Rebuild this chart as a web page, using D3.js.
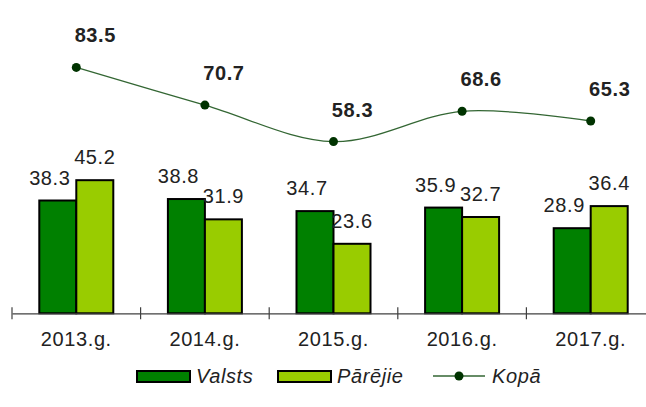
<!DOCTYPE html>
<html>
<head>
<meta charset="utf-8">
<script src="https://cdn.jsdelivr.net/npm/d3@7"></script>
<style>
  body { margin: 0; background: #fff; }
  text { font-family: "Liberation Sans", Arial, sans-serif; fill: #222; letter-spacing: 0.6px; }
</style>
</head>
<body>
<div id="chart"></div>
<script>
// data
var years = ["2013.g.", "2014.g.", "2015.g.", "2016.g.", "2017.g."];
var valsts = [38.3, 38.8, 34.7, 35.9, 28.9];
var parejie = [45.2, 31.9, 23.6, 32.7, 36.4];
var kopa = [83.5, 70.7, 58.3, 68.6, 65.3];
var seriesNames = ["Valsts", "Pārējie", "Kopā"];

var width = 646, height = 407;
var colors = {"Valsts": "#008000", "Pārējie": "#99cc00"};

var svg = d3.select("#chart")
  .append("svg")
  .attr("width", width)
  .attr("height", height);

// scales
var x = d3.scaleBand()
  .domain(years)
  .range([12, 655])
  .padding(0);

var barW = 37;
var x1 = d3.scaleBand()
  .domain(["Valsts", "Pārējie"])
  .range([x.bandwidth() / 2 - barW, x.bandwidth() / 2 + barW]);

var y = d3.scaleLinear()
  .domain([0, 100])
  .range([313.3, 18.8]);

var rows = years.map(function(d, i) {
  return {year: d, Valsts: valsts[i], "Pārējie": parejie[i], total: kopa[i]};
});

// bars
var groups = svg.selectAll(".grp")
  .data(rows)
  .enter()
  .append("g")
  .attr("transform", function(d) { return "translate(" + x(d.year) + ",0)"; });

groups.selectAll("rect")
  .data(function(d) { return ["Valsts", "Pārējie"].map(function(k) { return {key: k, value: d[k]}; }); })
  .enter()
  .append("rect")
    .attr("x", function(d) { return x1(d.key); })
    .attr("y", function(d) { return y(d.value); })
    .attr("width", x1.bandwidth())
    .attr("height", function(d) { return y(0) - y(d.value); })
    .style("fill", function(d) { return colors[d.key]; })
    .style("stroke", "#000")
    .style("stroke-width", 2);

// bar labels (Valsts ones sit a bit to the left)
groups.selectAll(".lbl")
  .data(function(d) { return ["Valsts", "Pārējie"].map(function(k) { return {key: k, value: d[k]}; }); })
  .enter()
  .append("text")
    .attr("x", function(d) { return x1(d.key) + x1.bandwidth() / 2 + (d.key === "Valsts" ? -8 : 0); })
    .attr("y", function(d) { return y(d.value) - 16; })
    .attr("text-anchor", "middle")
    .style("font-size", "20px")
    .text(function(d) { return d.value.toFixed(1); });

// x axis
var axis = svg.append("g")
  .attr("transform", "translate(0," + y(0) + ")")
  .call(d3.axisBottom(x).tickSize(0).tickFormat(""));
axis.select(".domain").attr("stroke", "#404040").attr("stroke-width", 1.2);

svg.selectAll(".tk")
  .data(years)
  .enter()
  .append("line")
    .attr("x1", function(d) { return x(d); })
    .attr("x2", function(d) { return x(d); })
    .attr("y1", y(0) - 6)
    .attr("y2", y(0) + 6)
    .attr("stroke", "#404040")
    .attr("stroke-width", 1.2);

svg.selectAll(".cat")
  .data(years)
  .enter()
  .append("text")
    .attr("x", function(d) { return x(d) + x.bandwidth() / 2; })
    .attr("y", 346)
    .attr("text-anchor", "middle")
    .style("font-size", "20px")
    .text(function(d) { return d; });

// total line
var line = d3.line()
  .x(function(d) { return x(d.year) + x.bandwidth() / 2; })
  .y(function(d) { return y(d.total); })
  .curve(d3.curveCardinal.tension(0));

svg.append("path")
  .datum(rows)
  .attr("d", line)
  .attr("fill", "none")
  .attr("stroke", "#336633")
  .attr("stroke-width", 1.3);

svg.selectAll(".dot")
  .data(rows)
  .enter()
  .append("circle")
    .attr("cx", function(d) { return x(d.year) + x.bandwidth() / 2; })
    .attr("cy", function(d) { return y(d.total); })
    .attr("r", 4.5)
    .style("fill", "#003300");

svg.selectAll(".tot")
  .data(rows)
  .enter()
  .append("text")
    .attr("x", function(d) { return x(d.year) + x.bandwidth() / 2 + 19; })
    .attr("y", function(d) { return y(d.total) - 25; })
    .attr("text-anchor", "middle")
    .style("font-size", "20px")
    .style("font-weight", "bold")
    .text(function(d) { return d.total.toFixed(1); });

// legend
var legend = svg.append("g");
var legX = [137, 278, 433];

legend.selectAll("rect")
  .data(seriesNames.slice(0, 2))
  .enter()
  .append("rect")
    .attr("x", function(d, i) { return legX[i]; })
    .attr("y", 371)
    .attr("width", 53)
    .attr("height", 11)
    .style("fill", function(d) { return colors[d]; })
    .style("stroke", "#000")
    .style("stroke-width", 2);

legend.append("line")
  .attr("x1", legX[2]).attr("x2", legX[2] + 52)
  .attr("y1", 376).attr("y2", 376)
  .attr("stroke", "#336633").attr("stroke-width", 1.3);
legend.append("circle")
  .attr("cx", legX[2] + 26).attr("cy", 376).attr("r", 4.5)
  .style("fill", "#003300");

legend.selectAll("text")
  .data(seriesNames)
  .enter()
  .append("text")
    .attr("x", function(d, i) { return legX[i] + 59; })
    .attr("y", 383)
    .style("font-size", "20px")
    .style("font-style", "italic")
    .text(function(d) { return d; });
</script>
</body>
</html>
